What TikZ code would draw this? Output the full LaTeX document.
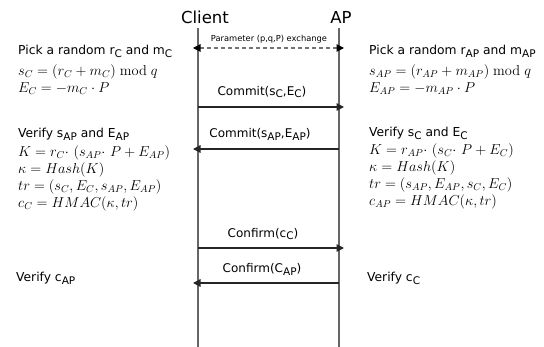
\documentclass[tikz,border=0pt]{standalone}
\usepackage[no-math]{fontspec}
\setmainfont{DejaVu Sans}
\usetikzlibrary{arrows.meta}
\newcommand\sbs[1]{\raisebox{-0.45ex}{\fontsize{10.5}{10.5}\selectfont #1}}
\tikzset{
  lifeline/.style={draw=black!60, line width=1.6pt},
  msg/.style={draw=black!85, line width=1.3pt, -{Triangle[length=7.5pt,width=7.5pt]}, shorten >=-5pt},
  dmsg/.style={draw=black!55, line width=1.1pt, dash pattern=on 4pt off 3pt, {Triangle[length=7.5pt,width=7.5pt,color=black]}-{Triangle[length=7.5pt,width=7.5pt,color=black]}, shorten >=-5pt, shorten <=-5pt},
  title/.style={font=\fontsize{16.5}{18}\selectfont, inner sep=0pt},
  lbl/.style={font=\fontsize{12}{13}\selectfont, inner sep=0pt},
  small/.style={font=\fontsize{8.3}{9}\selectfont, inner sep=0pt},
  txt/.style={font=\fontsize{12.3}{13}\selectfont, inner sep=0pt, anchor=west},
  eq/.style={font=\fontsize{14.5}{15}\selectfont, inner sep=0pt, anchor=west},
}
\begin{document}
\begin{tikzpicture}[x=1pt,y=-1pt]
\useasboundingbox (0,0) rectangle (544,347);
% lifelines
\node[title] (client) at (205,17) {Client};
\node[title] (ap) at (341,17) {AP};
\coordinate (ct) at (198,28); \coordinate (cb) at (198,347);
\coordinate (at) at (339,28); \coordinate (ab) at (339,347);
\draw[lifeline] (ct) -- (cb);
\draw[lifeline] (at) -- (ab);
% message coordinates
\foreach \n/\y in {1/48,2/107,3/149,4/248,5/283}{
  \coordinate (c\n) at (198,\y);
  \coordinate (a\n) at (339,\y);
}
\draw[dmsg] (c1) -- (a1);
\node[small] (l1) at (269,39) {Parameter (p,q,P) exchange};
\draw[msg] (c2) -- (a2);
\node[lbl] (l2) at (262,92) {Commit(s\sbs{C},E\sbs{C})};
\draw[msg] (a3) -- (c3);
\node[lbl] (l3) at (260,134) {Commit(s\sbs{AP},E\sbs{AP})};
\draw[msg] (c4) -- (a4);
\node[lbl] (l4) at (263,234) {Confirm(c\sbs{C})};
\draw[msg] (a5) -- (c5);
\node[lbl] (l5) at (262,269) {Confirm(C\sbs{AP})};
% left side
\node[txt] (lp) at (18,51) {Pick a random r\sbs{C} and m\sbs{C}};
\node[eq] (ls) at (18,72) {$s_C = (r_C + m_C) \bmod q$};
\node[eq] (le) at (18,89) {$E_C = -m_C \cdot P$};
\node[txt] (lv) at (18,134) {Verify s\sbs{AP} and E\sbs{AP}};
\node[eq] (lk) at (18,153) {$K = r_{C}{\cdot}\ (s_{AP}{\cdot}\ P + E_{AP})$};
\node[eq] (lkap) at (18,170) {$\kappa = Hash(K)$};
\node[eq] (ltr) at (18,187) {$tr = (s_C, E_C, s_{AP}, E_{AP})$};
\node[eq] (lc) at (18,204) {$c_C = HMAC(\kappa, tr)$};
\node[txt] (lver) at (16,278) {Verify c\sbs{AP}};
% right side
\node[txt] (rp) at (369,51) {Pick a random r\sbs{AP} and m\sbs{AP}};
\node[eq] (rs) at (369,72) {$s_{AP} = (r_{AP} + m_{AP}) \bmod q$};
\node[eq] (re) at (369,89) {$E_{AP} = -m_{AP} \cdot P$};
\node[txt] (rv) at (369,133) {Verify s\sbs{C} and E\sbs{C}};
\node[eq] (rk) at (369,151) {$K = r_{AP}{\cdot}\ (s_{C}{\cdot}\ P + E_{C})$};
\node[eq] (rkap) at (369,168) {$\kappa = Hash(K)$};
\node[eq] (rtr) at (369,185) {$tr = (s_{AP}, E_{AP}, s_C, E_C)$};
\node[eq] (rc) at (369,202) {$c_{AP} = HMAC(\kappa, tr)$};
\node[txt] (rver) at (367,278) {Verify c\sbs{C}};
\end{tikzpicture}
\end{document}
